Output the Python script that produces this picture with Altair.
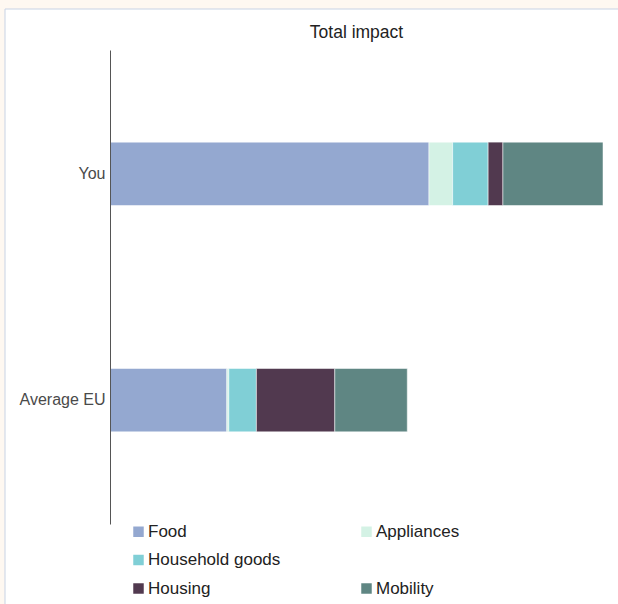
import altair as alt
import pandas as pd

# Footprint per category, tonnes CO2e per year
categories = ["Food", "Appliances", "Household goods", "Housing", "Mobility"]
you_values = [6.47, 0.48, 0.72, 0.30, 2.03]
eu_values = [2.37, 0.04, 0.56, 1.59, 1.47]
groups = ["You", "Average EU"]
colors = ["#94a8d0", "#d4f2e5", "#80cfd6", "#51394f", "#5f8683"]

FONT = "Liberation Sans"

rows = []
for g, vals in zip(groups, [you_values, eu_values]):
    for i, (c, v) in enumerate(zip(categories, vals)):
        rows.append({"group": g, "category": c, "value": v, "idx": i})
df = pd.DataFrame(rows)

# Legend spacer entry keeps "Household goods" on its own row
legend_domain = ["Food", "Appliances", "Household goods", " ", "Housing", "Mobility"]
legend_range = colors[:3] + ["transparent"] + colors[3:]

# White card behind the chart
panel = alt.Chart(pd.DataFrame({"p": [0]})).mark_rect(
    fill="white", stroke="#c8d3e4", strokeWidth=1
).encode(
    x=alt.value(-105), x2=alt.value(512),
    y=alt.value(-41), y2=alt.value(560),
)

bars = alt.Chart(df).mark_bar(
    stroke="white", strokeWidth=1, strokeOpacity=0.5
).encode(
    y=alt.Y("group:N", sort=groups, title=None,
            scale=alt.Scale(paddingInner=0.72, paddingOuter=0.407),
            axis=alt.Axis(ticks=False, grid=False, domainColor="#555",
                          labelColor="#4a4a4a", labelFontSize=16, labelFont=FONT,
                          labelPadding=5, zindex=1)),
    x=alt.X("value:Q", stack="zero", title=None, axis=None,
            scale=alt.Scale(domain=[0, 10], nice=False)),
    color=alt.Color("category:N",
                    scale=alt.Scale(domain=legend_domain, range=legend_range),
                    legend=alt.Legend(title=None, orient="none", legendX=20, legendY=473,
                                      direction="horizontal",
                                      columns=2, columnPadding=77, rowPadding=10.5,
                                      symbolType="square", symbolSize=110,
                                      symbolStrokeWidth=0, labelFontSize=17,
                                      labelFont=FONT, labelColor="#222",
                                      labelOffset=1, padding=0, zindex=1)),
    order=alt.Order("idx:Q"),
)

chart = alt.layer(panel, bars).properties(
    width=493, height=474,
    title=alt.TitleParams("Total impact", fontSize=17.5, font=FONT, fontWeight="normal",
                          color="#222", anchor="middle", baseline="alphabetic",
                          offset=-47, frame="group"),
    padding={"left": 110, "top": 50, "right": 15, "bottom": 80},
    autosize=alt.AutoSizeParams(type="none"),
    background="#fef8f1",
).configure_view(stroke=None)

chart.save("out.html", embed_options={"renderer": "svg", "actions": False})
